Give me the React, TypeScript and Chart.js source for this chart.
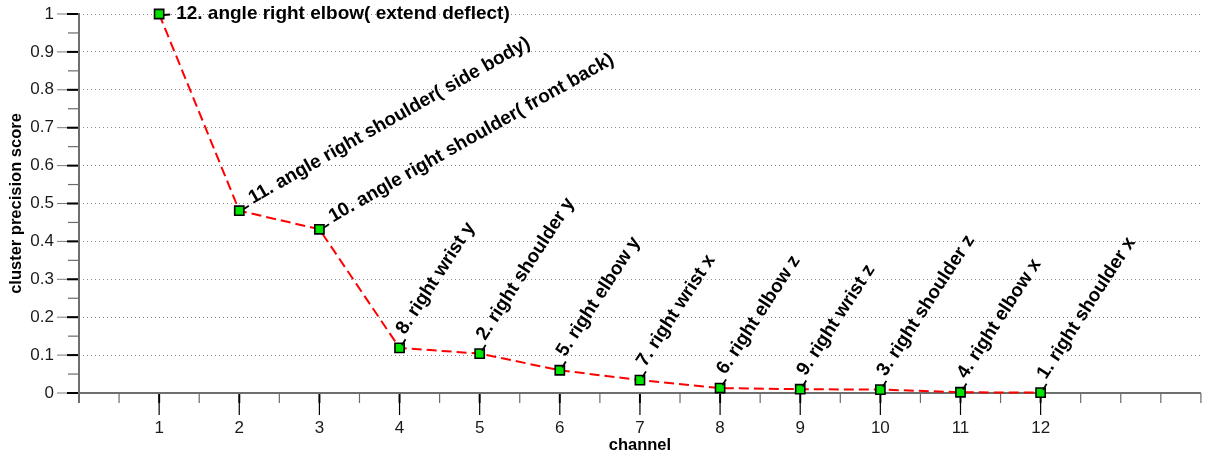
import { useEffect, useRef } from 'react';
import { Chart, registerables } from 'chart.js';

Chart.register(...registerables);

// Channel rank on the x axis and the precision score of each channel.
const channels = [1, 2, 3, 4, 5, 6, 7, 8, 9, 10, 11, 12];
const scores = [1.0, 0.481, 0.432, 0.119, 0.104, 0.06, 0.034, 0.013, 0.01, 0.009, 0.002, 0.001];

// Feature name written next to each point.
const featureNames = [
  '12. angle right elbow( extend deflect)',
  '11. angle right shoulder( side body)',
  '10. angle right shoulder( front back)',
  '8. right wrist y',
  '2. right shoulder y',
  '5. right elbow y',
  '7. right wrist x',
  '6. right elbow z',
  '9. right wrist z',
  '3. right shoulder z',
  '4. right elbow x',
  '1. right shoulder x',
];

const xTickLabels = ['1', '2', '3', '4', '5', '6', '7', '8', '9', '10', '11', '12'];
const yTickLabels = ['0', '0.1', '0.2', '0.3', '0.4', '0.5', '0.6', '0.7', '0.8', '0.9', '1'];

const FONT = '"Liberation Sans", Arial, Helvetica, sans-serif';

const isTenth = (v: number) => Math.abs(v * 10 - Math.round(v * 10)) < 1e-6;

// Scales keep their fixed size and add no extra edge padding to the layout.
const fixScale = (size: { width?: number; height?: number }) => (s: any) => {
  if (size.width !== undefined) s.width = size.width;
  if (size.height !== undefined) s.height = size.height;
  s.paddingTop = 0;
  s.paddingBottom = 0;
  s.paddingLeft = 0;
  s.paddingRight = 0;
};

// Axis lines plus long/short tick marks, drawn under the data.
const axisPlugin = {
  id: 'axisTicks',
  beforeDatasetsDraw(chart: any) {
    const { ctx } = chart;
    const xs = chart.scales.x;
    const ys = chart.scales.y;
    const x0 = xs.getPixelForValue(0);
    const xEnd = xs.getPixelForValue(14);
    const y0 = ys.getPixelForValue(0);
    const yTop = ys.getPixelForValue(1);
    ctx.save();
    ctx.lineCap = 'butt';

    // y ticks
    ys.ticks.forEach((t: any) => {
      const py = ys.getPixelForValue(t.value);
      ctx.strokeStyle = '#6a6a6a';
      ctx.lineWidth = 1.2;
      ctx.beginPath();
      ctx.moveTo(x0 - 11, py);
      ctx.lineTo(x0, py);
      ctx.stroke();
      if (isTenth(t.value)) {
        ctx.strokeStyle = '#7a7a7a';
        ctx.lineWidth = 1;
        ctx.beginPath();
        ctx.moveTo(x0 - 22, py);
        ctx.lineTo(x0, py);
        ctx.stroke();
        ctx.strokeStyle = '#000';
        ctx.lineWidth = 2;
        ctx.beginPath();
        ctx.moveTo(x0 - 12, py);
        ctx.lineTo(x0, py);
        ctx.stroke();
      }
    });

    // x ticks
    xs.ticks.forEach((t: any) => {
      const px = xs.getPixelForValue(t.value);
      const major = Number.isInteger(t.value) && t.value >= 1 && t.value <= 12;
      ctx.strokeStyle = major ? '#000' : '#6a6a6a';
      ctx.lineWidth = major ? 2 : 1.2;
      ctx.beginPath();
      ctx.moveTo(px, y0);
      ctx.lineTo(px, y0 + 10);
      ctx.stroke();
      if (major) {
        ctx.lineWidth = 1.2;
        ctx.beginPath();
        ctx.moveTo(px, y0 + 10);
        ctx.lineTo(px, y0 + 22);
        ctx.stroke();
      }
    });

    // axis lines
    ctx.strokeStyle = '#6e6e6e';
    ctx.lineWidth = 2;
    ctx.beginPath();
    ctx.moveTo(x0, yTop - 1);
    ctx.lineTo(x0, y0 + 10);
    ctx.stroke();
    ctx.beginPath();
    ctx.moveTo(x0, y0);
    ctx.lineTo(xEnd, y0);
    ctx.stroke();
    ctx.restore();
  },
};

// Rotated feature names with a short leader from each point.
const labelPlugin = {
  id: 'featureLabels',
  afterDatasetsDraw(chart: any) {
    const { ctx } = chart;
    const meta = chart.getDatasetMeta(0);
    ctx.save();
    meta.data.forEach((el: any, i: number) => {
      const deg = i === 0 ? 0 : i < 3 ? 29.5 : 57;
      const th = (deg * Math.PI) / 180;
      const s = Math.sin(th);
      const c = Math.cos(th);
      const ux = c;
      const uy = -s;
      const nx = s;
      const ny = c;
      const px = el.x;
      const py = el.y;

      ctx.strokeStyle = '#000';
      ctx.lineWidth = 1.8;
      ctx.beginPath();
      ctx.moveTo(px + 4.5 * ux, py + 4.5 * uy + 1);
      ctx.lineTo(px + 11 * ux, py + 11 * uy + 0.5);
      ctx.stroke();

      const a = 17 - 4 * s;
      const b = -9 * s;
      const ax = px + a * ux + b * nx;
      const ay = py + a * uy + b * ny;
      ctx.save();
      ctx.translate(ax, ay);
      ctx.rotate(-th);
      ctx.font = `bold 19px ${FONT}`;
      ctx.fillStyle = '#000';
      ctx.textAlign = 'left';
      ctx.textBaseline = 'middle';
      ctx.fillText(featureNames[i], 0, 0);
      ctx.restore();
    });
    ctx.restore();
  },
};

export default function App() {
  const canvasRef = useRef<HTMLCanvasElement | null>(null);

  useEffect(() => {
    document.body.style.margin = '0';
    const canvas = canvasRef.current;
    if (!canvas) return;

    const chart = new Chart(canvas, {
      type: 'line',
      data: {
        datasets: [
          {
            data: channels.map((c, i) => ({ x: c, y: scores[i] })),
            borderColor: '#ff0000',
            borderWidth: 2,
            borderDash: [10, 5],
            tension: 0,
            fill: false,
            pointStyle: 'rect',
            pointRadius: 6.5,
            pointBackgroundColor: '#00e400',
            pointBorderColor: '#000',
            pointBorderWidth: 1.6,
            clip: false,
          } as any,
        ],
      },
      options: {
        animation: false,
        responsive: false,
        maintainAspectRatio: false,
        layout: { padding: { left: 0, right: 4, top: 14, bottom: 0 } },
        plugins: {
          legend: { display: false },
          tooltip: { enabled: false },
        },
        scales: {
          x: {
            type: 'linear',
            min: 0,
            max: 14,
            ticks: {
              stepSize: 0.5,
              autoSkip: false,
              maxRotation: 0,
              minRotation: 0,
              maxTicksLimit: 100,
              padding: 25,
              color: '#1a1a1a',
              font: { family: FONT, size: 17 },
              callback: (v: any) => {
                const n = Number(v);
                return Number.isInteger(n) && n >= 1 && n <= 12 ? xTickLabels[n - 1] : '';
              },
            },
            grid: { display: false, drawTicks: false },
            border: { display: false },
            title: {
              display: true,
              text: 'channel',
              color: '#000',
              font: { family: FONT, size: 16.5, weight: 'bold' },
              padding: { top: 0, bottom: 4 },
            },
            afterFit: fixScale({ height: 66 }),
          },
          y: {
            type: 'linear',
            min: 0,
            max: 1,
            ticks: {
              stepSize: 0.05,
              autoSkip: false,
              maxTicksLimit: 100,
              padding: 25,
              color: '#1a1a1a',
              font: { family: FONT, size: 17 },
              callback: (v: any) => {
                const n = Number(v);
                return isTenth(n) ? yTickLabels[Math.round(n * 10)] : '';
              },
            },
            grid: {
              drawTicks: false,
              lineWidth: 1,
              color: (ctx: any) =>
                ctx.tick && ctx.tick.value > 0 && isTenth(ctx.tick.value) ? '#8a8a8a' : 'rgba(0,0,0,0)',
            },
            border: { display: false, dash: [1, 3] },
            title: {
              display: true,
              text: 'cluster precision score',
              color: '#000',
              font: { family: FONT, size: 16.5, weight: 'bold' },
              padding: { top: 7, bottom: 0 },
            },
            afterFit: fixScale({ width: 79 }),
          },
        },
      } as any,
      plugins: [axisPlugin, labelPlugin],
    });

    return () => chart.destroy();
  }, []);

  return (
    <div style={{ width: 1209, height: 459, position: 'relative' }}>
      <canvas ref={canvasRef} width={1209} height={459} style={{ display: 'block' }} />
    </div>
  );
}
